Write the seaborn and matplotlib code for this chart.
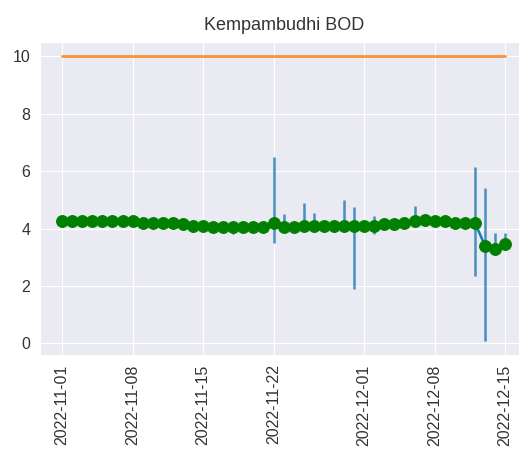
import pandas as pd
import seaborn as sns
import matplotlib
matplotlib.use("Agg")
import matplotlib.pyplot as plt

# ===============================
# DATA
# ===============================
dates = pd.date_range("2022-11-01", "2022-12-15", freq="D")

bod_mean = [4.25, 4.25, 4.25, 4.25, 4.25, 4.25, 4.25, 4.25, 4.2, 4.2,
            4.2, 4.2, 4.15, 4.1, 4.1, 4.05, 4.05, 4.05, 4.05, 4.05,
            4.05, 4.2, 4.05, 4.05, 4.1, 4.1, 4.1, 4.1, 4.1, 4.1,
            4.1, 4.1, 4.15, 4.15, 4.2, 4.25, 4.3, 4.25, 4.25, 4.2,
            4.2, 4.2, 3.4, 3.3, 3.45]

bod_low = [4.25, 4.25, 4.25, 4.25, 4.25, 4.25, 4.25, 4.25, 4.2, 4.2,
           4.2, 4.2, 4.15, 4.1, 4.1, 4.05, 4.05, 3.8, 4.05, 4.05,
           4.05, 3.5, 3.9, 4.05, 3.9, 4.1, 4.1, 4.1, 4.1, 1.9,
           4.1, 3.8, 4.15, 3.95, 4.2, 4.25, 4.3, 4.25, 4.25, 4.2,
           4.2, 2.35, 0.1, 3.3, 3.4]

bod_high = [4.25, 4.25, 4.25, 4.25, 4.25, 4.25, 4.25, 4.25, 4.2, 4.2,
            4.2, 4.2, 4.15, 4.1, 4.1, 4.05, 4.05, 4.05, 4.05, 4.05,
            4.05, 6.5, 4.5, 4.05, 4.9, 4.55, 4.1, 4.1, 5.0, 4.75,
            4.1, 4.45, 4.15, 4.3, 4.2, 4.8, 4.3, 4.25, 4.25, 4.2,
            4.2, 6.15, 5.4, 3.85, 3.85]

bod_limit = [10] * len(dates)

df = pd.DataFrame({"date": dates, "bod": bod_mean, "low": bod_low,
                   "high": bod_high, "limit": bod_limit})

# ===============================
# PLOT
# ===============================
sns.set_style("darkgrid")
plt.rcParams["font.family"] = ["Liberation Sans", "DejaVu Sans"]

fig, ax = plt.subplots(figsize=(5.19, 4.73), dpi=100)

blue = "#1f77b4"
orange = "#ff7f0e"

# error bars
ax.vlines(df["date"], df["low"], df["high"], color=blue, linewidth=1.8,
          alpha=0.8, zorder=2)

# mean line with green markers
sns.lineplot(data=df, x="date", y="bod", ax=ax, color=blue, linewidth=1.8,
             marker="o", markersize=8.5, markerfacecolor="green",
             markeredgecolor="green", zorder=3)

# limit line
sns.lineplot(data=df, x="date", y="limit", ax=ax, color=orange, linewidth=2,
             alpha=0.85)

ax.set_title("Kempambudhi BOD", fontsize=13, pad=9, color="#333333")
ax.set_xlabel("")
ax.set_ylabel("")
ax.tick_params(axis="both", labelsize=11.5, labelcolor="#333333")
plt.xticks(rotation=90)

# the reference is cropped on the right, so the axes run past the edge
fig.subplots_adjust(left=0.077, right=1.016, top=0.911, bottom=0.25)
fig.savefig("out.png")
plt.close()
